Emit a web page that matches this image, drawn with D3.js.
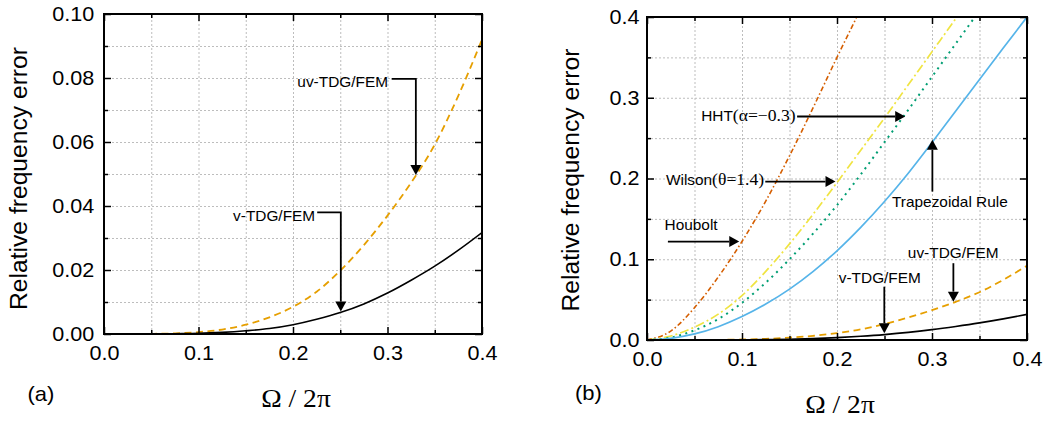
<!DOCTYPE html>
<html><head><meta charset="utf-8">
<script src="https://cdn.jsdelivr.net/npm/d3@7/dist/d3.min.js"></script>
<style>
body{margin:0;background:#fff}
svg{display:block}
text{font-family:"Liberation Sans",Arial,Helvetica,sans-serif;fill:#000}
.serif{font-family:"Liberation Serif","Times New Roman",serif}
</style>
</head><body>
<svg id="chart" width="1061" height="423"></svg>
<script>
// ---- data ----
const omega = [0, 0.025, 0.05, 0.075, 0.1, 0.125, 0.15, 0.175, 0.2, 0.225, 0.25, 0.275, 0.3, 0.325, 0.35, 0.375, 0.4];
const vTDG = [0, 0, 0.00002, 0.0001, 0.0002, 0.0005, 0.001, 0.0017, 0.0029, 0.0046, 0.0067, 0.0094, 0.0128, 0.0168, 0.0212, 0.0262, 0.0317];
const uvTDG = [0, 0, 0.00005, 0.0002, 0.0006, 0.0014, 0.0029, 0.0052, 0.0085, 0.0132, 0.0198, 0.0278, 0.0370, 0.0473, 0.0592, 0.0745, 0.0920];
const houbolt = [0, 0.011, 0.04, 0.078, 0.122, 0.172, 0.228, 0.288, 0.35, 0.41];
const wilson = [0, 0.005, 0.016, 0.032, 0.055, 0.085, 0.119, 0.156, 0.195, 0.235, 0.275, 0.316, 0.357, 0.398, 0.44];
const hht = [0, 0.003, 0.012, 0.026, 0.046, 0.071, 0.1, 0.132, 0.167, 0.205, 0.245, 0.285, 0.326, 0.367, 0.408];
const trapezoidal = [0, 0.002, 0.0075, 0.0165, 0.029, 0.0445, 0.063, 0.085, 0.1105, 0.1395, 0.1715, 0.2065, 0.2445, 0.2835, 0.3225, 0.3615, 0.4];

const xTickValues = [0, 0.1, 0.2, 0.3, 0.4];
const xMinorTicks = [0.05, 0.15, 0.25, 0.35];
const yTickValuesA = [0, 0.02, 0.04, 0.06, 0.08, 0.10];
const yMinorTicksA = [0.01, 0.03, 0.05, 0.07, 0.09];
const yTickValuesB = [0, 0.1, 0.2, 0.3, 0.4];
const yMinorTicksB = [0.05, 0.15, 0.25, 0.35];

const svg = d3.select("#chart");
svg.append("rect").attr("width",1061).attr("height",423).attr("fill","#fff");

const SX = 1.08; // horizontal text stretch seen in the picture

function drawPanel(cfg){
  const x = d3.scaleLinear().domain([0,0.4]).range([cfg.left, cfg.right]);
  const y = d3.scaleLinear().domain(cfg.yDomain).range([cfg.bottom, cfg.top]);
  const w = cfg.right-cfg.left, h = cfg.bottom-cfg.top;
  const g = svg.append("g");
  const clipId = "clip"+cfg.id;
  svg.append("defs").append("clipPath").attr("id",clipId)
    .append("rect").attr("x",cfg.left).attr("y",cfg.top).attr("width",w).attr("height",h);

  // grid
  const gridX = xMinorTicks.concat([0.1,0.2,0.3]);
  const gridY = cfg.yMinor.concat(cfg.yMajor.slice(1,-1));
  g.append("g").attr("transform",`translate(0,${cfg.bottom})`)
    .call(d3.axisBottom(x).tickValues(gridX).tickSize(-h).tickFormat(""))
    .call(s=>s.select(".domain").remove())
    .selectAll("line").attr("stroke","#bdbdbd").attr("stroke-width",1).attr("stroke-dasharray","2,2");
  g.append("g").attr("transform",`translate(${cfg.left},0)`)
    .call(d3.axisLeft(y).tickValues(gridY).tickSize(-w).tickFormat(""))
    .call(s=>s.select(".domain").remove())
    .selectAll("line").attr("stroke","#bdbdbd").attr("stroke-width",1).attr("stroke-dasharray","2,2");

  // series
  const line = d3.line().x((d,i)=>x(omega[i])).y(d=>y(d)).curve(d3.curveMonotoneX);
  const cg = g.append("g").attr("clip-path",`url(#${clipId})`);
  cfg.series.forEach(s=>{
    cg.append("path").datum(s.values).attr("d",line)
      .attr("fill","none").attr("stroke",s.color).attr("stroke-width",s.width)
      .attr("stroke-dasharray",s.dash||null);
  });

  // axes (inward ticks on all four sides)
  function ax(axis, tr, vals, size, fmt, pad){
    const a = g.append("g").attr("transform",tr)
      .call(axis.tickValues(vals).tickSize(size).tickPadding(pad||3).tickFormat(fmt||""));
    a.select(".domain").remove();
    a.selectAll("line").attr("stroke","#000").attr("stroke-width",1.5);
    return a;
  }
  const bx = ax(d3.axisBottom(x), `translate(0,${cfg.bottom})`, xTickValues, -7, d3.format(".1f"), 12);
  ax(d3.axisBottom(x), `translate(0,${cfg.bottom})`, xMinorTicks, -4);
  ax(d3.axisTop(x), `translate(0,${cfg.top})`, xTickValues, -7);
  ax(d3.axisTop(x), `translate(0,${cfg.top})`, xMinorTicks, -4);
  const ly = ax(d3.axisLeft(y), `translate(${cfg.left},0)`, cfg.yMajor, -7, d3.format(cfg.yFmt), cfg.yPad);
  ax(d3.axisLeft(y), `translate(${cfg.left},0)`, cfg.yMinor, -4);
  ax(d3.axisRight(y), `translate(${cfg.right},0)`, cfg.yMajor, -7);
  ax(d3.axisRight(y), `translate(${cfg.right},0)`, cfg.yMinor, -4);
  [bx, ly].forEach(a=>a.selectAll("text")
    .attr("font-size",20).attr("font-family",'"Liberation Sans",Arial,sans-serif').attr("fill","#000")
    .attr("transform",`scale(${SX},1)`));

  g.append("rect").attr("x",cfg.left).attr("y",cfg.top).attr("width",w).attr("height",h)
    .attr("fill","none").attr("stroke","#000").attr("stroke-width",2);

  // axis titles
  g.append("text").attr("transform",`translate(${cfg.yTitle[0]},${cfg.yTitle[1]}) rotate(-90)`)
    .attr("text-anchor","middle").attr("font-size",23)
    .attr("textLength",263).attr("lengthAdjust","spacingAndGlyphs")
    .text("Relative frequency error");
  g.append("text").attr("class","serif")
    .attr("transform",`translate(${cfg.xTitle[0]},${cfg.xTitle[1]}) scale(1.06,1)`)
    .attr("text-anchor","middle").attr("font-size",26).text("Ω / 2π");
  g.append("text").attr("transform",`translate(${cfg.tag[0]},${cfg.tag[1]}) scale(1.1,1)`)
    .attr("font-size",20).text(cfg.tagText);

  // annotations
  cfg.notes.forEach(n=>{
    const t = g.append("text")
      .attr("transform",`translate(${x(n.tx)},${y(n.ty)}) scale(1.1,1)`)
      .attr("text-anchor",n.anchor).attr("font-size",14);
    t.append("tspan").text(n.label);
    if(n.serif) t.append("tspan").attr("class","serif").attr("font-size",16).text(n.serif);
    const pts = n.path.map(p=>[x(p[0]),y(p[1])]);
    const a = pts[pts.length-1], b = pts[pts.length-2];
    const dx = a[0]-b[0], dy = a[1]-b[1], L = Math.hypot(dx,dy), ux = dx/L, uy = dy/L;
    const hl = 10, hw = 5.5;
    const base = [a[0]-ux*hl, a[1]-uy*hl];
    const shaft = pts.slice(0,-1).concat([base]);
    g.append("path").attr("d",d3.line()(shaft)).attr("fill","none").attr("stroke","#000").attr("stroke-width",1.8);
    g.append("path").attr("d",d3.line()([a,[base[0]-uy*hw, base[1]+ux*hw],[base[0]+uy*hw, base[1]-ux*hw]])+"Z")
      .attr("fill","#000");
  });
}

const cBlack="#000000", cOrange="#E69F00", cRed="#D55E00", cYellow="#F0E442", cGreen="#009E73", cBlue="#56B4E9";

drawPanel({
  id:"a", left:104, right:482, top:14, bottom:334, yDomain:[0,0.1],
  yMajor:yTickValuesA, yMinor:yMinorTicksA, yFmt:".2f", yPad:9,
  yTitle:[27,178.5], xTitle:[296,407], tag:[27.5,401], tagText:"(a)",
  series:[
    {values:uvTDG, color:cOrange, width:1.8, dash:"7,4.5"},
    {values:vTDG, color:cBlack, width:1.6}
  ],
  notes:[
    {label:"uv-TDG/FEM", tx:0.3005, ty:0.0772, anchor:"end", path:[[0.3044,0.0797],[0.330,0.0797],[0.330,0.0497]]},
    {label:"v-TDG/FEM", tx:0.2234, ty:0.0354, anchor:"end", path:[[0.2256,0.038],[0.2506,0.038],[0.2506,0.0070]]}
  ]
});

drawPanel({
  id:"b", left:647, right:1027, top:17, bottom:340, yDomain:[0,0.4],
  yMajor:yTickValuesB, yMinor:yMinorTicksB, yFmt:".1f", yPad:7,
  yTitle:[578.5,180], xTitle:[840,413], tag:[575,400], tagText:"(b)",
  series:[
    {values:houbolt, color:cRed, width:1.6, dash:"5,2.5,1.5,2.5"},
    {values:wilson, color:cYellow, width:1.7, dash:"9,3,2,3"},
    {values:hht, color:cGreen, width:2, dash:"2,4.5"},
    {values:trapezoidal, color:cBlue, width:1.7},
    {values:uvTDG, color:cOrange, width:1.8, dash:"7,4.5"},
    {values:vTDG, color:cBlack, width:1.6}
  ],
  notes:[
    {label:"HHT", serif:"(α=−0.3)", tx:0.1564, ty:0.2706, anchor:"end", path:[[0.158,0.2768],[0.2718,0.2768]]},
    {label:"Wilson", serif:"(θ=1.4)", tx:0.1233, ty:0.1921, anchor:"end", path:[[0.1245,0.1962],[0.1984,0.1962]]},
    {label:"Houbolt", tx:0.0185, ty:0.1363, anchor:"start", path:[[0.022,0.1219],[0.0971,0.1219]]},
    {label:"Trapezoidal Rule", tx:0.2579, ty:0.1645, anchor:"start", path:[[0.3004,0.1838],[0.3004,0.2479]]},
    {label:"uv-TDG/FEM", tx:0.2746, ty:0.1013, anchor:"start", path:[[0.3225,0.0951],[0.3225,0.0475]]},
    {label:"v-TDG/FEM", tx:0.2019, ty:0.071, anchor:"start", path:[[0.2498,0.066],[0.2498,0.0083]]}
  ]
});
</script>
</body></html>
